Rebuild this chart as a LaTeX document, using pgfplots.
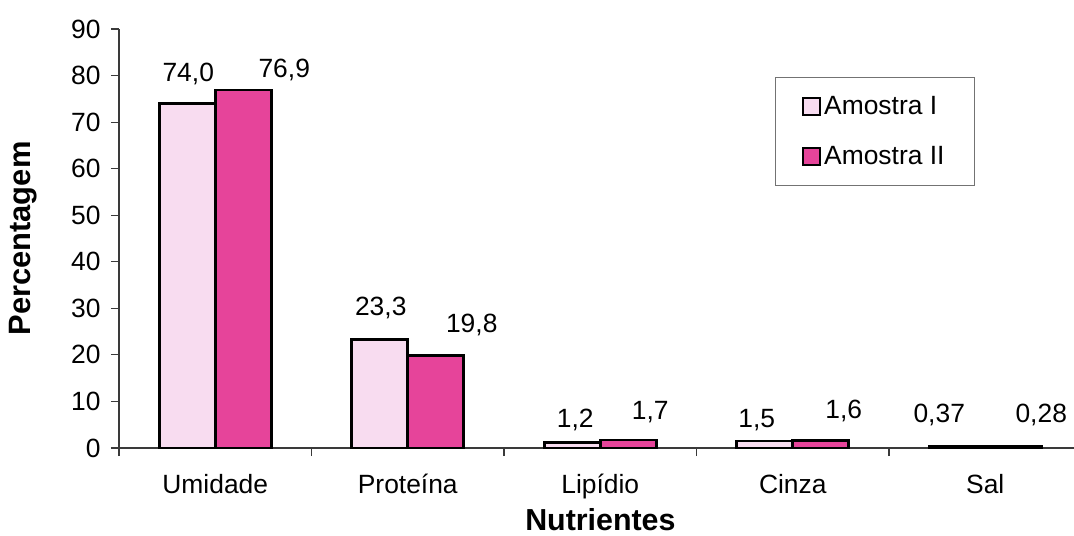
\documentclass[border=0pt]{standalone}
\usepackage{fontspec}
\setmainfont{Liberation Sans}
\usepackage{pgfplots}
\usepackage{pgfplotstable}
\pgfplotsset{compat=1.18}

\definecolor{rosaclaro}{HTML}{F8DCF0}
\definecolor{rosaforte}{HTML}{E6449A}
\definecolor{eixo}{HTML}{3A3A3A}

% small outlined square used as legend image
\pgfplotsset{quadrado/.style={
  legend image code/.code={\draw[##1, line width=1.8bp] (0bp,-8.5bp) rectangle (17bp,8.5bp);}}}

% x: category index, y: percentage, lab: printed value,
% dx/dy: label offset from the top of the bar (bp)
\pgfplotstableread{
x  y     lab   dx   dy
0  74.0  74,0   1   30
1  23.3  23,3   1   32
2  1.2   1,2    3   22
3  1.5   1,5   -8   21
4  0.37  0,37 -18   31
}\amostraI

\pgfplotstableread{
x  y     lab   dx   dy
0  76.9  76,9  41   20
1  19.8  19,8  36   31
2  1.7   1,7   22   28
3  1.6   1,6   23   30
4  0.28  0,28  28   32
}\amostraII

\begin{document}
\begin{tikzpicture}
\begin{axis}[
  at={(0bp,0bp)}, anchor=south west,
  width=954.8bp, height=419bp, scale only axis,
  xmin=-0.5, xmax=4.46, ymin=0, ymax=90,
  ybar=0pt, bar width=56bp,
  axis x line*=bottom, axis y line*=left,
  axis line style={line width=1.1bp, eixo},
  xtick={0,1,2,3,4},
  xticklabels={Umidade,Proteína,Lipídio,Cinza,Sal},
  minor xtick={-0.5,0.5,1.5,2.5,3.5},
  ytick={0,10,...,90},
  tick align=outside,
  major tick length=8bp, minor tick length=8bp,
  major x tick style={draw=none},
  minor x tick style={line width=1.1bp, eixo},
  ytick style={line width=1.1bp, eixo},
  tick label style={font=\fontsize{26.5}{30}\selectfont},
  /pgf/number format/assume math mode=true,
  xticklabel style={anchor=base, yshift=-37bp},
  yticklabel style={anchor=east, xshift=-7bp},
  xlabel={Nutrientes},
  ylabel={Percentagem},
  every axis x label/.style={at={(axis description cs:0.5,0)}, xshift=4bp, yshift=-72bp,
    anchor=center, font=\fontsize{30.5}{36}\selectfont\bfseries},
  every axis y label/.style={at={(axis description cs:0,0.5)}, xshift=-96bp, rotate=90,
    anchor=center, font=\fontsize{31}{36}\selectfont\bfseries},
  legend style={at={(axis description cs:0.687,0.885)}, anchor=north west,
    draw=black!55, line width=0.9bp, fill=white,
    font=\fontsize{26.5}{30}\selectfont,
    inner xsep=27bp, inner ysep=16bp, row sep=24bp,
    nodes={inner xsep=3bp, inner ysep=3bp}},
  legend cell align=left,
  nodes near coords,
  point meta=explicit symbolic,
  visualization depends on={\thisrow{dx} \as \dx},
  visualization depends on={\thisrow{dy} \as \dy},
  every node near coord/.append style={font=\fontsize{26.5}{30}\selectfont,
    anchor=center, xshift=\dx bp, yshift=\dy bp},
]
\addplot[fill=rosaclaro, draw=black, line width=2.8bp, quadrado]
  table[x=x, y=y, meta=lab] {\amostraI};
\addplot[fill=rosaforte, draw=black, line width=2.8bp, quadrado]
  table[x=x, y=y, meta=lab] {\amostraII};
\legend{Amostra I, Amostra II}
\end{axis}
\pgfresetboundingbox
\path[use as bounding box] (-119bp,-88bp) rectangle (955bp,448bp);
\end{tikzpicture}
\end{document}
